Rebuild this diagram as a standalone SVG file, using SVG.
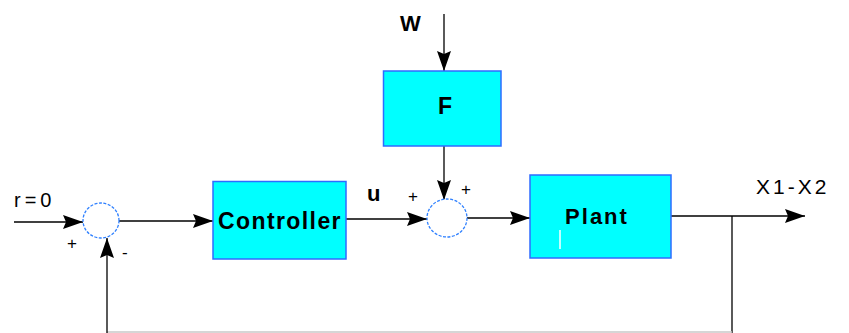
<svg xmlns="http://www.w3.org/2000/svg" width="849" height="333" viewBox="0 0 849 333">
<defs>
<style>
.box{fill:#00FFFF;stroke:#2F6BFF;stroke-width:1.5}
.sum{fill:#fff;stroke:#2F80FF;stroke-width:1.3;stroke-dasharray:3 1.5}
.ln{fill:none;stroke:#000;stroke-width:1.3}
.t{font-family:"Liberation Sans",Arial,sans-serif;fill:#000}
.b{font-weight:bold}
.s{font-size:17px}
</style>
<marker id="ah" viewBox="0 0 20 14" refX="20" refY="7" markerWidth="20" markerHeight="14" markerUnits="userSpaceOnUse" orient="auto">
<path d="M0,0 L20,7 L0,14 L3,7 Z" fill="#000"/>
</marker>
</defs>
<rect width="849" height="333" fill="#fff"/>
<g id="connectors">
<line class="ln" x1="14" y1="222" x2="83" y2="222" marker-end="url(#ah)"/>
<line class="ln" x1="119" y1="221" x2="213" y2="221" marker-end="url(#ah)"/>
<line class="ln" x1="346" y1="219" x2="427" y2="219" marker-end="url(#ah)"/>
<line class="ln" x1="444" y1="14" x2="444" y2="71" marker-end="url(#ah)"/>
<line class="ln" x1="444" y1="146" x2="444" y2="200" marker-end="url(#ah)"/>
<line class="ln" x1="467" y1="218" x2="530" y2="218" marker-end="url(#ah)"/>
<line class="ln" x1="671" y1="216" x2="805" y2="216" marker-end="url(#ah)"/>
<polyline class="ln" points="732,216 732,333"/>
<line x1="107" y1="332" x2="732" y2="332" stroke="#c8c8c8" stroke-width="1.3"/>
<line class="ln" x1="107" y1="333" x2="107" y2="238" marker-end="url(#ah)"/>
</g>
<g id="sum1">
<ellipse class="sum" cx="101" cy="220.5" rx="18" ry="17.5"/>
<text class="t s" x="67" y="249">+</text>
<text class="t s" x="122" y="258">-</text>
</g>
<g id="sum2">
<ellipse class="sum" cx="447" cy="218" rx="20" ry="19"/>
<text class="t s" x="408" y="202">+</text>
<text class="t s" x="461" y="195">+</text>
</g>
<g id="controller">
<rect class="box" x="213" y="181.5" width="133" height="77.5"/>
<text class="t b" x="280" y="229" font-size="23" letter-spacing="1.4" text-anchor="middle">Controller</text>
</g>
<g id="F">
<rect class="box" x="383.5" y="71" width="117.5" height="75"/>
<text class="t" x="445" y="114" font-size="23" font-weight="600" text-anchor="middle">F</text>
</g>
<g id="plant">
<rect class="box" x="530" y="175" width="141" height="83"/>
<text class="t b" x="597" y="224" font-size="22" letter-spacing="2" text-anchor="middle">Plant</text>
<line x1="560" y1="230" x2="560" y2="249" stroke="#fff" stroke-width="1.5"/>
</g>
<g id="labels">
<text class="t" x="14" y="207" font-size="20" letter-spacing="4">r=0</text>
<text class="t b" x="400" y="31" font-size="22">W</text>
<text class="t b" x="367" y="201" font-size="22">u</text>
<text class="t" x="756" y="194" font-size="21" letter-spacing="3">X1-X2</text>
</g>
</svg>
